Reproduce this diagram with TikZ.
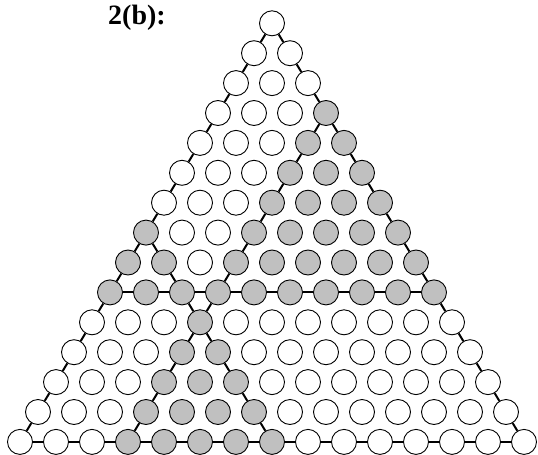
\documentclass[tikz,border=0pt]{standalone}
\usepackage{fontspec}
\setmainfont{Liberation Serif}
\usepackage{tikz}

\tikzset{
    ball/.style={circle, draw, line width=0.9pt, minimum size=25pt, inner sep=0pt, fill=white},
    grayball/.style={ball, fill=ballgray},
    link/.style={line width=2pt}
}
\definecolor{ballgray}{RGB}{192,192,192}

\begin{document}
\begin{tikzpicture}[x=1pt, y=-1pt]
    \useasboundingbox (0,0) rectangle (538,455);

    % Label
    \node[anchor=base] (title) at (137,24.5) {\fontsize{28}{30}\selectfont\bfseries 2(b):};

    % Triangle of balls
    \foreach \r in {1,...,15} {
        \foreach \k in {1,...,\r} {
            \pgfmathtruncatemacro\isgray{or(and(and(\r>=4,\r<=10),\k>=4), and(and(\r>=8,\k<=\r-7),or(\r<=10,\k>=4)))}
            \ifnum\isgray=1
                \node[grayball] (n-\r-\k) at ({272+(\k-(\r+1)/2)*36}, {23.3+(\r-1)*29.9}) {};
            \else
                \node[ball] (n-\r-\k) at ({272+(\k-(\r+1)/2)*36}, {23.3+(\r-1)*29.9}) {};
            \fi
        }
    }

    % Outer sides
    \foreach \r [evaluate=\r as \s using int(\r+1)] in {1,...,14} {
        \draw[link] (n-\r-1) -- (n-\s-1);
        \draw[link] (n-\r-\r) -- (n-\s-\s);
        \draw[link] (n-15-\r) -- (n-15-\s);
    }

    % Row 10
    \foreach \k [evaluate=\k as \j using int(\k+1)] in {1,...,9} {
        \draw[link] (n-10-\k) -- (n-10-\j);
    }

    % Inner lines
    \foreach \r [evaluate=\r as \s using int(\r+1)] in {4,...,14} {
        \draw[link] (n-\r-4) -- (n-\s-4);
    }
    \foreach \r [evaluate=\r as \s using int(\r+1), evaluate=\r as \a using int(\r-7), evaluate=\r as \b using int(\r-6)] in {8,...,14} {
        \draw[link] (n-\r-\a) -- (n-\s-\b);
    }

\end{tikzpicture}
\end{document}
